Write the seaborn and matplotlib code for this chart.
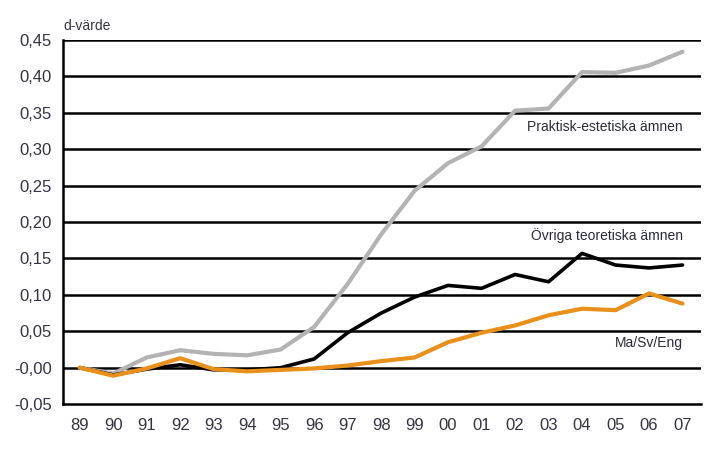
import numpy as np
import pandas as pd
import matplotlib
matplotlib.use("Agg")
import matplotlib.pyplot as plt
import seaborn as sns

years = ["89", "90", "91", "92", "93", "94", "95", "96", "97", "98",
         "99", "00", "01", "02", "03", "04", "05", "06", "07"]
praktisk = [0.000, -0.008, 0.014, 0.024, 0.019, 0.017, 0.025, 0.056, 0.115, 0.183,
            0.243, 0.281, 0.304, 0.353, 0.356, 0.406, 0.405, 0.415, 0.434]
ovriga = [0.000, -0.010, -0.002, 0.004, -0.003, -0.003, 0.000, 0.012, 0.048, 0.075,
          0.097, 0.113, 0.109, 0.128, 0.118, 0.157, 0.141, 0.137, 0.141]
masveng = [0.000, -0.011, -0.001, 0.013, -0.002, -0.005, -0.003, -0.001, 0.003, 0.009,
           0.014, 0.035, 0.048, 0.058, 0.072, 0.081, 0.079, 0.102, 0.088]
series_names = ["Praktisk-estetiska ämnen", "Övriga teoretiska ämnen", "Ma/Sv/Eng"]
colors = ["#b3b3b3", "#000000", "#e8901a"]
y_ticks = [-0.05, 0.00, 0.05, 0.10, 0.15, 0.20, 0.25, 0.30, 0.35, 0.40, 0.45]
y_labels = ["-0,05", "-0,00", "0,05", "0,10", "0,15", "0,20", "0,25", "0,30", "0,35", "0,40", "0,45"]

sns.set_style("white")
plt.rcParams["font.family"] = ["Liberation Sans Narrow", "Liberation Sans", "DejaVu Sans"]

fig = plt.figure(figsize=(7.2, 4.5), dpi=100)
ax = fig.add_axes([0.0875, 0.102, 0.886, 0.809])

for y in y_ticks[1:]:
    ax.axhline(y, color="black", lw=1.8, zorder=1)

x = np.arange(len(years))
for name, vals, c, lw in zip(series_names, [praktisk, ovriga, masveng], colors, [3.0, 2.6, 3.0]):
    df = pd.DataFrame({"x": x, "v": vals})
    sns.lineplot(data=df, x="x", y="v", color=c, lw=lw, ax=ax, zorder=3)

ax.set_xlim(-0.5, 18.55)
ax.set_ylim(-0.05, 0.45)
ax.set_xticks(x)
ax.set_xticklabels(years)
ax.set_yticks(y_ticks)
ax.set_yticklabels(y_labels)
ax.tick_params(axis="both", length=0, labelsize=12, colors="#333344")
ax.tick_params(axis="x", pad=10)
ax.tick_params(axis="y", pad=8)
ax.set_xlabel("")
ax.set_ylabel("")
for s in ["top", "right"]:
    ax.spines[s].set_visible(False)
for s in ["left", "bottom"]:
    ax.spines[s].set_color("black")
    ax.spines[s].set_linewidth(1.8)

ax.text(18, 0.330, series_names[0], ha="right", va="center", fontsize=10, color="#2a2a3a")
ax.text(18, 0.181, series_names[1], ha="right", va="center", fontsize=10, color="#2a2a3a")
ax.text(18, 0.034, series_names[2], ha="right", va="center", fontsize=10, color="#2a2a3a")
fig.text(0.0875, 0.942, "d-värde", ha="left", va="center", fontsize=10, color="#333344")

fig.savefig("out.png", dpi=100)
